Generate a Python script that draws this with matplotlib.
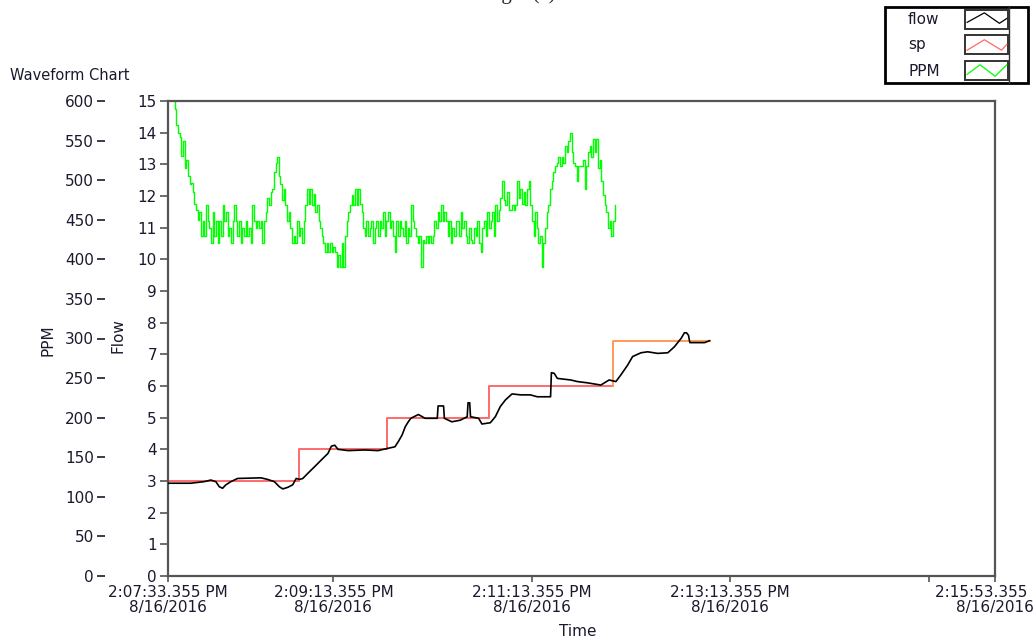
import datetime as dt
import matplotlib
matplotlib.use("Agg")
import matplotlib.pyplot as plt
from matplotlib.patches import Rectangle

# ---- data -------------------------------------------------------------
start_time = dt.datetime(2016, 8, 16, 14, 7, 33, 355000)
x_span = 500                                  # seconds shown on the chart
tick_seconds = [0, 100, 220, 340, 460, 500]
labelled_ticks = [0, 100, 220, 340, 500]

# PPM, one sample per second
ppm = [
    640, 625, 610, 600, 590, 570, 560, 555, 530, 550,
    515, 525, 505, 495, 497, 485, 470, 462, 450, 460,
    430, 449, 430, 468, 449, 439, 420, 460, 430, 449,
    420, 449, 430, 468, 449, 460, 430, 439, 420, 449,
    468, 449, 430, 449, 420, 439, 430, 449, 430, 439,
    420, 468, 449, 439, 449, 439, 449, 420, 449, 460,
    478, 468, 485, 489, 510, 522, 529, 505, 495, 475,
    489, 468, 449, 460, 439, 420, 430, 420, 449, 430,
    439, 420, 449, 468, 489, 470, 489, 468, 482, 460,
    468, 449, 439, 430, 420, 409, 420, 409, 420, 409,
    415, 409, 390, 405, 390, 420, 390, 430, 449, 460,
    468, 481, 468, 489, 468, 489, 470, 460, 439, 430,
    449, 430, 439, 449, 420, 439, 449, 430, 449, 439,
    460, 430, 449, 460, 439, 449, 430, 409, 449, 430,
    449, 439, 430, 449, 420, 439, 430, 468, 449, 439,
    430, 420, 430, 390, 425, 420, 430, 420, 430, 420,
    430, 449, 439, 460, 449, 468, 449, 460, 449, 430,
    449, 420, 439, 430, 449, 449, 430, 460, 439, 449,
    430, 420, 439, 425, 420, 439, 430, 449, 420, 409,
    439, 449, 430, 460, 439, 449, 460, 430, 468, 449,
    462, 478, 499, 475, 468, 485, 462, 462, 468, 462,
    468, 499, 478, 489, 470, 485, 468, 489, 499, 468,
    449, 430, 460, 439, 420, 430, 390, 420, 439, 460,
    468, 489, 499, 510, 518, 522, 529, 518, 529, 522,
    543, 535, 550, 560, 535, 522, 518, 499, 518, 518,
    518, 525, 489, 518, 535, 543, 529, 552, 535, 552,
    515, 525, 499, 481, 468, 460, 439, 449, 430, 449, 468,
]
ppm_t = list(range(len(ppm)))

# measured flow
flow_t = [0, 13.8, 21.9, 25.9, 28.9, 31.0, 33.0, 35.0, 38.0, 42.1,
          56.2, 60.2, 64.3, 67.3, 69.4, 72.4, 75.4, 77.5, 79.5, 81.5,
          84.5, 88.6, 92.6, 96.7, 98.8, 100.8, 102.8, 108.9, 119.0, 127.0,
          131.1, 137.2, 139.2, 141.5, 143.5, 145.3, 146.8, 151.4, 155.4, 162.8,
          163.3, 166.6, 167.1, 171.6, 176.7, 180.9, 181.4, 182.4, 182.9, 187.8,
          189.8, 194.9, 197.9, 200.9, 204.0, 208.0, 213.1, 219.1, 223.2, 231.3,
          231.8, 233.5, 235.4, 243.5, 247.5, 253.6, 261.7, 266.7, 270.8, 273.8,
          277.9, 280.9, 286.0, 290.0, 296.1, 302.2, 306.2, 310.3, 312.2, 313.5,
          314.7, 315.5, 324.4, 327.4]
flow = [2.93, 2.93, 2.98, 3.03, 2.98, 2.82, 2.77, 2.88, 2.98, 3.08,
        3.10, 3.05, 2.98, 2.82, 2.75, 2.80, 2.88, 3.08, 3.05, 3.08,
        3.24, 3.45, 3.66, 3.87, 4.10, 4.13, 4.00, 3.96, 3.98, 3.96,
        4.01, 4.08, 4.24, 4.45, 4.72, 4.87, 4.98, 5.10, 4.98, 4.98,
        5.37, 5.37, 4.98, 4.87, 4.92, 5.03, 5.47, 5.47, 5.03, 4.98,
        4.80, 4.84, 5.03, 5.35, 5.56, 5.75, 5.72, 5.72, 5.66, 5.66,
        6.42, 6.40, 6.24, 6.19, 6.14, 6.10, 6.03, 6.19, 6.14, 6.35,
        6.66, 6.93, 7.05, 7.08, 7.03, 7.05, 7.24, 7.51, 7.68, 7.68,
        7.60, 7.37, 7.37, 7.43]

# set point (step changes)
sp_t = [0, 79.1, 132.6, 194.3, 269.2, 327.4]
sp = [3.0, 4.0, 5.0, 6.0, 7.43, 7.43]

flow_ticks = list(range(0, 16))
ppm_ticks = list(range(0, 601, 50))

# ---- style ------------------------------------------------------------
plt.rcParams["font.family"] = ["DejaVu Sans"]
TXT = "#1a1a2e"
SPINE = "#555555"
GREEN = "#00ff00"
RED = "#ff6a6a"
ORANGE = "#ff9a55"
FS = 11

W, H = 1033, 640
PX = 72 / 100          # points per pixel at 100 dpi
fig = plt.figure(figsize=(W / 100, H / 100), dpi=100)
fig.patch.set_facecolor("white")

L, R, T, B = 168, 995, 101, 576
ax = fig.add_axes([L / W, 1 - B / H, (R - L) / W, (B - T) / H])
ax.set_xlim(0, x_span)
ax.set_ylim(0, 15)
ax.set_yticks(flow_ticks)
ax.tick_params(axis="y", direction="out", length=8 * PX, width=1.2, color=SPINE,
               labelsize=FS, labelcolor=TXT, pad=3 * PX)
for s in ax.spines.values():
    s.set_color(SPINE)
    s.set_linewidth(1.6)

# time axis labels
def time_label(sec):
    t = start_time + dt.timedelta(seconds=sec)
    hour = t.hour % 12 or 12
    ampm = "PM" if t.hour >= 12 else "AM"
    return (f"{hour}:{t.minute:02d}:{t.second:02d}.{t.microsecond // 1000:03d} {ampm}\n"
            f"{t.month}/{t.day}/{t.year}")

ax.set_xticks(tick_seconds)
ax.set_xticklabels([time_label(s) if s in labelled_ticks else "" for s in tick_seconds],
                   linespacing=1.0)
ax.tick_params(axis="x", direction="out", length=6 * PX, width=1.2, color=SPINE,
               labelsize=FS, labelcolor=TXT, pad=3 * PX)

# PPM axis, placed outside the flow axis on the left
ax2 = ax.twinx()
ax2.set_ylim(0, 600)
ax2.set_yticks(ppm_ticks)
ax2.yaxis.set_ticks_position("left")
ax2.spines["left"].set_position(("outward", 63 * PX))
for s in ax2.spines.values():
    s.set_visible(False)
ax2.tick_params(axis="y", direction="out", length=8 * PX, width=1.2, color=TXT,
                labelsize=FS, labelcolor=TXT, pad=3 * PX)

# series
ax2.plot(ppm_t, ppm, color=GREEN, lw=1.0, drawstyle="steps-post", zorder=3)
ax.plot(sp_t[:5], sp[:4] + [sp[3]], color=RED, lw=1.4, drawstyle="steps-post", zorder=2)
ax.plot([sp_t[4], sp_t[4], sp_t[5]], [sp[3], sp[4], sp[5]], color=ORANGE, lw=1.4, zorder=2)
ax.plot(flow_t, flow, color="black", lw=1.2, zorder=4)
ax.set_zorder(ax2.get_zorder() + 1)
ax.patch.set_visible(False)

# axis titles
fig.text(48 / W, 1 - 340 / H, "PPM", rotation=90, ha="center", va="center",
         fontsize=FS, color=TXT)
fig.text(118 / W, 1 - 336 / H, "Flow", rotation=90, ha="center", va="center",
         fontsize=FS, color=TXT)
fig.text(578 / W, 1 - 631 / H, "Time", ha="center", va="center", fontsize=FS, color=TXT)
fig.text(10 / W, 1 - 76 / H, "Waveform Chart", ha="left", va="center",
         fontsize=10.5, color=TXT)
fig.text(520 / W, 1 + 0.5 / H, "Fig. 6(c)", ha="center", va="baseline",
         fontsize=15, family="Liberation Serif", color="#222222")

# legend panel
lg = fig.add_axes([0, 0, 1, 1], zorder=10)
lg.set_xlim(0, W)
lg.set_ylim(H, 0)
lg.axis("off")
lg.add_patch(Rectangle((885, 7), 143, 76, fill=False, ec="black", lw=2))
lg.plot([1009, 1009], [7, 83], color="#333333", lw=1)
entries = [("flow", "black", 10, [(0.05, 0.65), (0.45, 0.15), (0.8, 0.7), (0.97, 0.45)]),
           ("sp", RED, 35, [(0.05, 0.8), (0.45, 0.25), (0.85, 0.8), (0.97, 0.5)]),
           ("PPM", GREEN, 61, [(0.05, 0.7), (0.35, 0.2), (0.7, 0.8), (0.97, 0.2)])]
for name, col, top, zig in entries:
    lg.text(908, top + 10, name, ha="left", va="center", fontsize=11, color=TXT)
    lg.add_patch(Rectangle((965, top), 43, 19, fill=False, ec="#333333", lw=1.4))
    lg.plot([965 + 43 * a for a, _ in zig], [top + 19 * b for _, b in zig],
            color=col, lw=0.9)

fig.savefig("out.png", dpi=100, facecolor="white")
